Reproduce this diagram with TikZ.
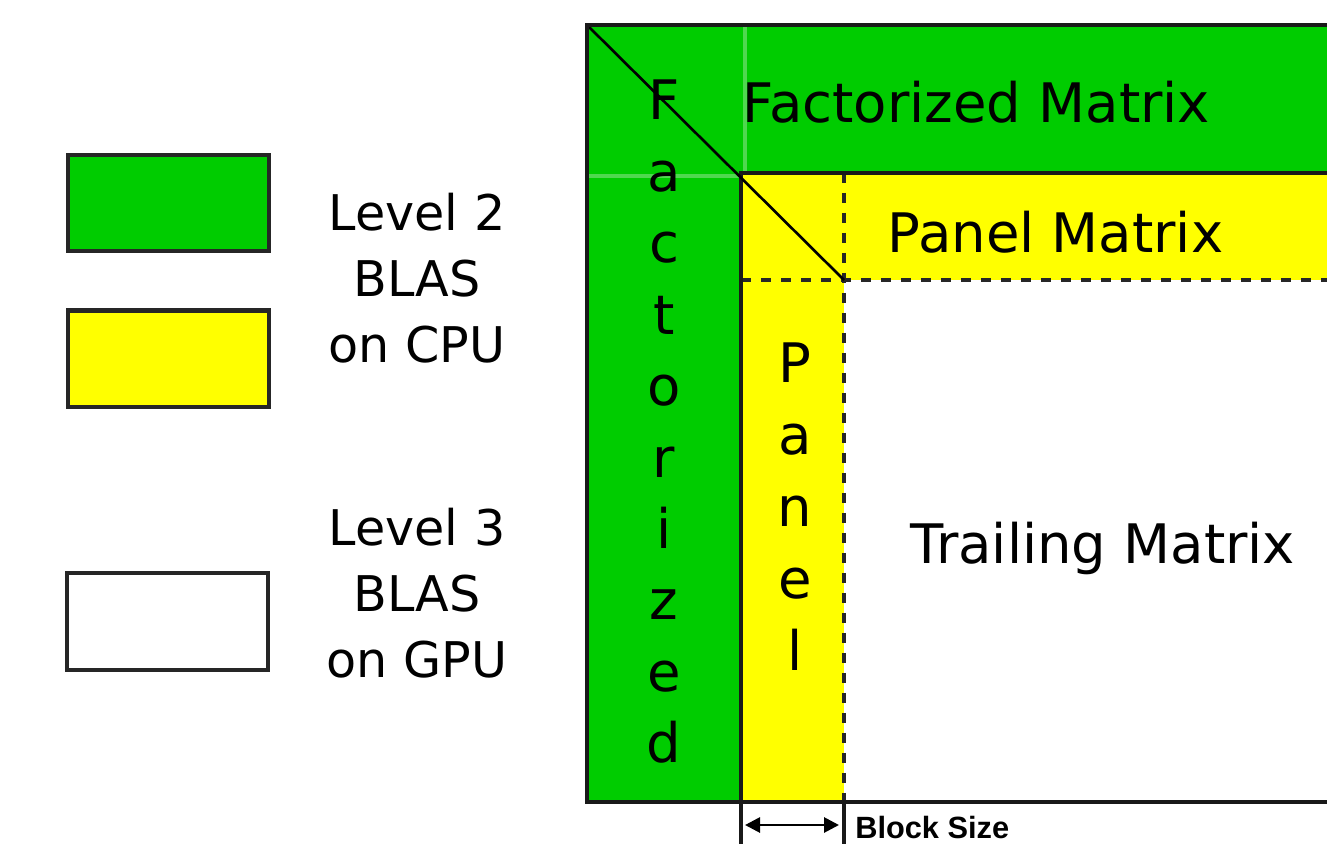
\documentclass[tikz,border=0pt]{standalone}
\usepackage{fontspec}
\setmainfont{DejaVu Sans}
\newfontfamily\sizefont{Liberation Sans}
\definecolor{factgreen}{RGB}{0,204,0}
\definecolor{panelyellow}{RGB}{255,255,0}
\definecolor{gridgreen}{RGB}{80,216,80}
\usetikzlibrary{arrows.meta, positioning}

\begin{document}
\begin{tikzpicture}[
    x=0.02cm, y=-0.02cm,
    legbox/.style={draw=black!85, line width=2.4pt, inner sep=0pt,
                   minimum width=4.02cm, minimum height=1.93cm},
    legtext/.style={align=center, inner sep=0pt,
                    font=\fontsize{28pt}{37.7pt}\selectfont},
    mtext/.style={inner sep=0pt, anchor=base,
                  font=\fontsize{31pt}{37pt}\selectfont},
    border/.style={line width=2.6pt, black!90},
    edge/.style={line width=2.3pt, black!90},
    dashline/.style={line width=2pt, black!85, dash pattern=on 0.2cm off 0.2cm},
    diag/.style={line width=1.5pt, black},
    gridline/.style={line width=2pt, gridgreen},
    bsarrow/.style={{Triangle[length=0.3cm,width=0.3cm]}-{Triangle[length=0.3cm,width=0.3cm]},
                    line width=1.6pt, black}
  ]
    \useasboundingbox (0,0) rectangle (1327,844);

    % legend
    \node[legbox, fill=factgreen] (boxfact) at (168.5,203) {};
    \node[legbox, fill=panelyellow, below=1.1cm of boxfact] (boxpanel) {};
    \node[legbox, fill=white] (boxtrail) at (167.5,621.5) {};
    \node[legtext] (cputxt) at (417,278) {Level 2\\BLAS\\on CPU};
    \node[legtext] (gputxt) at (417,593) {Level 3\\BLAS\\on GPU};

    % corners of the matrix
    \coordinate (tl) at (587,25);
    \coordinate (tr) at (1327,25);
    \coordinate (bl) at (587,802);
    \coordinate (br) at (1327,802);
    \coordinate (fc) at (741,173);
    \coordinate (pc) at (844,280);

    \fill[factgreen] (tl) rectangle (br);
    \fill[panelyellow] (fc) rectangle (br);
    \fill[white] (pc) rectangle (br);
    \draw[gridline] (745,27) -- (745,173);
    \draw[gridline] (589,176) -- (741,176);

    \draw[dashline] (fc |- pc) -- (tr |- pc);
    \draw[dashline] (fc -| pc) -- (pc |- bl);
    \draw[edge] (tr |- fc) -- (fc) -- (741,844);
    \draw[edge] (844,802) -- (844,844);
    \draw[diag] (tl) -- (pc);
    \draw[border] (tr) -- (tl) -- (bl) -- (br);

    % texts
    \node[mtext] (factmat) at (976.5,123) {Factorized Matrix};
    \node[mtext] (panelmat) at (1055.5,253) {Panel Matrix};
    \node[mtext] (trailmat) at (1103,563) {Trailing Matrix};
    \foreach \ch [count=\i from 0] in {F,a,c,t,o,r,i,z,e,d}
      \node[mtext] (fact-\i) at (664,{120+71.4*\i}) {\ch};
    \foreach \ch [count=\i from 0] in {P,a,n,e,l}
      \node[mtext] (panel-\i) at (795,{382+72*\i}) {\ch};

    % block size
    \coordinate (bsl) at (745,825);
    \coordinate (bsr) at (839,825);
    \draw[bsarrow] (bsl) -- (bsr);
    \node[inner sep=0pt, anchor=base west, font=\sizefont\bfseries\fontsize{17.5pt}{20pt}\selectfont]
      (bslbl) at (855,838) {Block Size};
  \end{tikzpicture}
\end{document}
